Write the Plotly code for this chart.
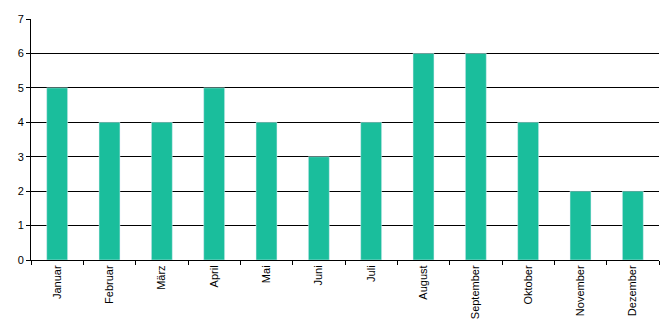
import plotly.graph_objects as go

months = ["Januar", "Februar", "März", "April", "Mai", "Juni", "Juli",
          "August", "September", "Oktober", "November", "Dezember"]
values = [5, 4, 4, 5, 4, 3, 4, 6, 6, 4, 2, 2]

fig = go.Figure(go.Bar(x=months, y=values, marker_color="#1ABE9C", width=0.4))

fig.update_layout(
    width=670, height=330,
    margin=dict(l=31, r=11, t=19, b=70),
    plot_bgcolor="white", paper_bgcolor="white",
    font=dict(family="Liberation Sans, Arial", size=11, color="black"),
    showlegend=False, bargap=0.6,
)
fig.update_xaxes(
    type="category", showline=True, linecolor="black", linewidth=1,
    ticks="outside", ticklen=4, tickcolor="black", tickson="boundaries",
    tickangle=-90, showgrid=False, range=[-0.5, 11.5],
)
fig.update_yaxes(
    range=[0, 7], dtick=1, showline=True, linecolor="black", linewidth=1,
    ticks="outside", ticklen=4, tickcolor="black",
    showgrid=True, gridcolor="black", gridwidth=1, zeroline=False,
)

fig.write_html("out.html")
